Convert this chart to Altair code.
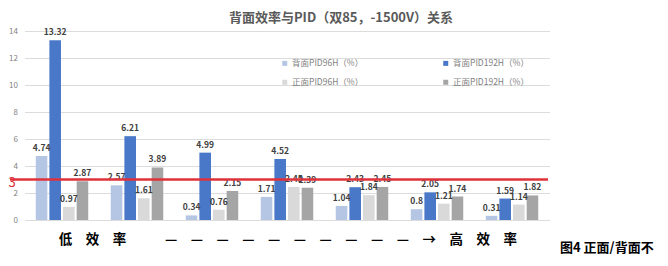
import altair as alt
import pandas as pd

groups = ["G1", "G2", "G3", "G4", "G5", "G6", "G7"]
series = ["背面PID96H（%）", "背面PID192H（%）", "正面PID96H（%）", "正面PID192H（%）"]
back96 = [4.74, 2.57, 0.34, 1.71, 1.04, 0.8, 0.31]
back192 = [13.32, 6.21, 4.99, 4.52, 2.43, 2.05, 1.59]
front96 = [0.97, 1.61, 0.76, 2.45, 1.84, 1.21, 1.14]
front192 = [2.87, 3.89, 2.15, 2.39, 2.45, 1.74, 1.82]
colors = ["#b4c6e4", "#4a78c8", "#d9d9d9", "#a5a5a5"]
y_ticks = [0, 2, 4, 6, 8, 10, 12, 14]
threshold = 3

title_text = "背面效率与PID（双85，-1500V）关系"
low_text = "低　效　率"
high_text = "—　—　—　—　—　—　—　—　—　—　→　高　效　率"
caption_text = "图4 正面/背面不"

rows = []
for vals, s in zip([back96, back192, front96, front192], series):
    for g, v in zip(groups, vals):
        rows.append({"group": g, "series": s, "value": v, "label": f"{v:g}"})
df = pd.DataFrame(rows)

FONT = "Noto Sans CJK SC"

y_axis = alt.Axis(values=y_ticks, title=None, domain=False, ticks=False,
                  labelOverlap=False, labelFontSize=8, labelColor="#7f7f7f",
                  labelPadding=7, labelFont=FONT,
                  gridColor="#dcdcdc", gridWidth=1)
y_scale = alt.Scale(domain=[0, 14], nice=False)

x_enc = alt.X("group:N", sort=groups,
              scale=alt.Scale(paddingInner=0.3, paddingOuter=0.15),
              axis=None)
xo_enc = alt.XOffset("series:N", sort=series,
                     scale=alt.Scale(paddingInner=0.15, paddingOuter=0))
y_enc = alt.Y("value:Q", scale=y_scale, axis=y_axis)

bars = alt.Chart(df).mark_bar().encode(
    x=x_enc, xOffset=xo_enc, y=y_enc,
    color=alt.Color("series:N", sort=series,
                    scale=alt.Scale(domain=series, range=colors),
                    legend=alt.Legend(title=None, orient="none", legendX=256, legendY=28,
                                      direction="horizontal", columns=2,
                                      columnPadding=78, rowPadding=10,
                                      symbolType="square", symbolSize=25,
                                      labelFontSize=8.5, labelColor="#7f7f7f",
                                      labelFont=FONT, labelOffset=3)),
)

labels = alt.Chart(df).mark_text(baseline="bottom", dy=-3, fontSize=8.5, fontWeight="bold",
                                 color="#404040", font=FONT).encode(
    x=x_enc, xOffset=xo_enc, y=y_enc, text="label:N")

one = pd.DataFrame({"v": [threshold]})
rule = alt.Chart(one).mark_rule(color="#e0303a", strokeWidth=2.5).encode(
    y=alt.Y("v:Q", scale=y_scale, axis=y_axis), x=alt.value(-14.5), x2=alt.value(523.5))

three = alt.Chart(one).mark_text(color="#e0303a", fontSize=13, font=FONT).encode(
    x=alt.value(-12.5), y=alt.value(152), text=alt.value(str(threshold)))

title = alt.Chart(one).mark_text(fontSize=13, fontWeight="bold", color="#595959", font=FONT).encode(
    x=alt.value(316.5), y=alt.value(-13), text=alt.value(title_text))

low = alt.Chart(one).mark_text(fontSize=13.5, fontWeight="bold", color="#000000", font=FONT).encode(
    x=alt.value(68), y=alt.value(209), text=alt.value(low_text))

high = alt.Chart(one).mark_text(fontSize=13.5, fontWeight="bold", color="#000000", font=FONT).encode(
    x=alt.value(316.5), y=alt.value(209), text=alt.value(high_text))

caption = alt.Chart(one).mark_text(fontSize=13, fontWeight="bold", color="#000000", font=FONT,
                                   align="left").encode(
    x=alt.value(535.5), y=alt.value(217), text=alt.value(caption_text))

chart = alt.layer(bars, labels, rule, three, title, low, high, caption).properties(
    width=525, height=189,
    padding={"left": 24.5, "top": 31, "right": 118.5, "bottom": 46},
    autosize=alt.AutoSizeParams(type="none"),
    background="white",
).configure_view(stroke=None)

chart.save("out.html", embed_options={"renderer": "svg", "actions": False})
